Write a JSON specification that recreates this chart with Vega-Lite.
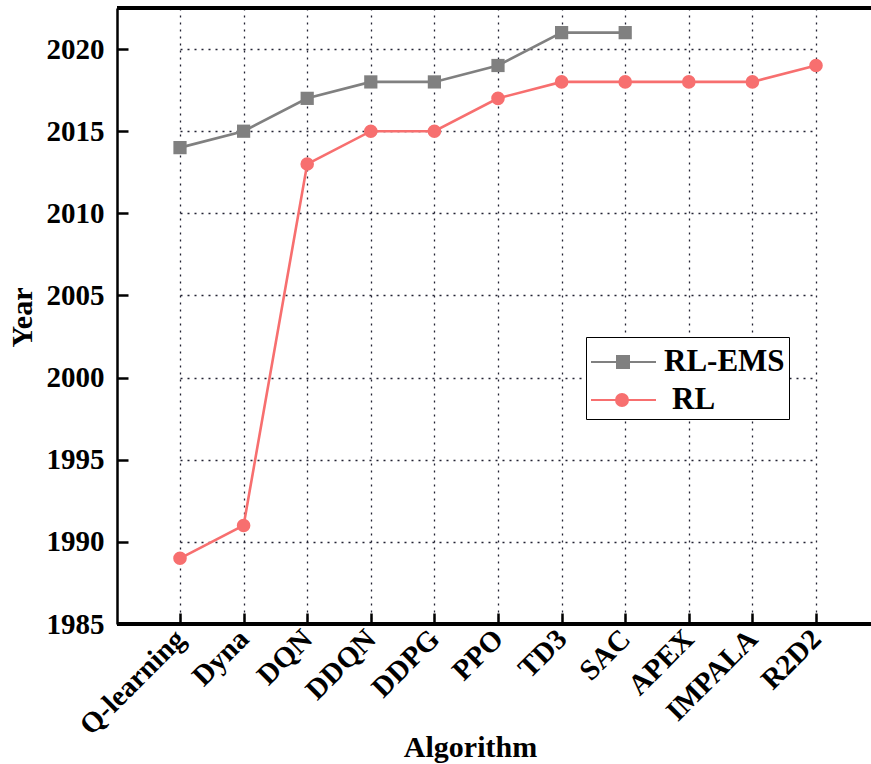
{
  "$schema": "https://vega.github.io/schema/vega-lite/v6.json",
  "width": 754,
  "height": 616,
  "autosize": {"type": "none"},
  "padding": {"left": 117, "top": 8, "right": 0, "bottom": 140},
  "background": "white",
  "config": {
    "font": "Liberation Serif",
    "view": {"stroke": null},
    "axis": {
      "labelFont": "Liberation Serif",
      "labelFontWeight": "bold",
      "labelFontSize": 29,
      "labelColor": "black",
      "titleFont": "Liberation Serif",
      "titleFontWeight": "bold",
      "titleFontSize": 30,
      "titleColor": "black",
      "domainColor": "black",
      "domainWidth": 2.5,
      "tickColor": "black",
      "tickWidth": 2.5,
      "tickSize": -11,
      "grid": true,
      "gridColor": "#222233",
      "gridDash": [2, 5],
      "gridWidth": 1.3,
      "gridOpacity": 1
    }
  },
  "data": {
    "values": [
      {"algorithm": "Q-learning", "series": "RL-EMS", "year": 2014},
      {"algorithm": "Dyna", "series": "RL-EMS", "year": 2015},
      {"algorithm": "DQN", "series": "RL-EMS", "year": 2017},
      {"algorithm": "DDQN", "series": "RL-EMS", "year": 2018},
      {"algorithm": "DDPG", "series": "RL-EMS", "year": 2018},
      {"algorithm": "PPO", "series": "RL-EMS", "year": 2019},
      {"algorithm": "TD3", "series": "RL-EMS", "year": 2021},
      {"algorithm": "SAC", "series": "RL-EMS", "year": 2021},
      {"algorithm": "Q-learning", "series": "RL", "year": 1989},
      {"algorithm": "Dyna", "series": "RL", "year": 1991},
      {"algorithm": "DQN", "series": "RL", "year": 2013},
      {"algorithm": "DDQN", "series": "RL", "year": 2015},
      {"algorithm": "DDPG", "series": "RL", "year": 2015},
      {"algorithm": "PPO", "series": "RL", "year": 2017},
      {"algorithm": "TD3", "series": "RL", "year": 2018},
      {"algorithm": "SAC", "series": "RL", "year": 2018},
      {"algorithm": "APEX", "series": "RL", "year": 2018},
      {"algorithm": "IMPALA", "series": "RL", "year": 2018},
      {"algorithm": "R2D2", "series": "RL", "year": 2019}
    ]
  },
  "layer": [
    {
      "mark": {"type": "rule", "color": "black", "strokeWidth": 2.5},
      "encoding": {"y": {"datum": 2022.5, "type": "quantitative"}}
    },
    {
      "mark": {"type": "rule", "color": "black", "strokeWidth": 2.5},
      "encoding": {"y": {"datum": 1985, "type": "quantitative"}}
    },
    {
      "encoding": {
        "x": {
          "field": "algorithm",
          "type": "nominal",
          "sort": ["Q-learning", "Dyna", "DQN", "DDQN", "DDPG", "PPO", "TD3", "SAC", "APEX", "IMPALA", "R2D2"],
          "scale": {"type": "point", "range": [63, 699], "padding": 0},
          "axis": {
            "title": "Algorithm",
            "domain": false,
            "labelAngle": -45,
            "labelAlign": "right",
            "labelBaseline": "middle",
            "labelPadding": 21,
            "titleX": 353,
            "titleY": 123,
            "titleBaseline": "middle"
          }
        },
        "y": {
          "field": "year",
          "type": "quantitative",
          "scale": {"domain": [1985, 2022.5], "nice": false, "zero": false},
          "axis": {
            "title": "Year",
            "values": [1985, 1990, 1995, 2000, 2005, 2010, 2015, 2020],
            "format": "d",
            "labelPadding": 24,
            "labelFlush": false,
            "titleX": -95,
            "titleY": 309,
            "titleBaseline": "middle"
          }
        },
        "color": {
          "field": "series",
          "type": "nominal",
          "scale": {"domain": ["RL-EMS", "RL"], "range": ["#808080", "#f76f6f"]},
          "legend": {
            "title": null,
            "orient": "none",
            "legendX": 469,
            "legendY": 329,
            "strokeColor": "black",
            "fillColor": "white",
            "padding": 4,
            "symbolSize": 1600,
            "rowPadding": 2,
            "labelOffset": 32,
            "labelFont": "Liberation Serif",
            "labelFontWeight": "bold",
            "labelFontSize": 31,
            "labelColor": "black",
            "encode": {
              "labels": {
                "update": {
                  "dx": {"signal": "datum.value === 'RL' ? 8 : 0"}
                }
              },
              "symbols": {
                "update": {
                  "shape": {"signal": "datum.value === 'RL' ? 'M-1,0H2.25M0.85,0A0.3,0.3 0 1 1 0.25,0A0.3,0.3 0 1 1 0.85,0Z' : 'M-1,0H2.25M0.3,-0.3H0.9V0.3H0.3Z'"},
                  "fill": {"signal": "datum.value === 'RL' ? '#f76f6f' : '#808080'"},
                  "stroke": {"signal": "datum.value === 'RL' ? '#f76f6f' : '#808080'"},
                  "strokeWidth": {"value": 2},
                  "opacity": {"value": 1},
                  "fillOpacity": {"value": 1}
                }
              }
            }
          }
        }
      },
      "layer": [
        {"mark": {"type": "line", "strokeWidth": 2.6}},
        {
          "transform": [{"filter": "datum.series === 'RL-EMS'"}],
          "mark": {"type": "point", "shape": "square", "filled": true, "size": 175, "opacity": 1}
        },
        {
          "transform": [{"filter": "datum.series === 'RL'"}],
          "mark": {"type": "point", "shape": "circle", "filled": true, "size": 185, "opacity": 1}
        }
      ]
    }
  ]
}
